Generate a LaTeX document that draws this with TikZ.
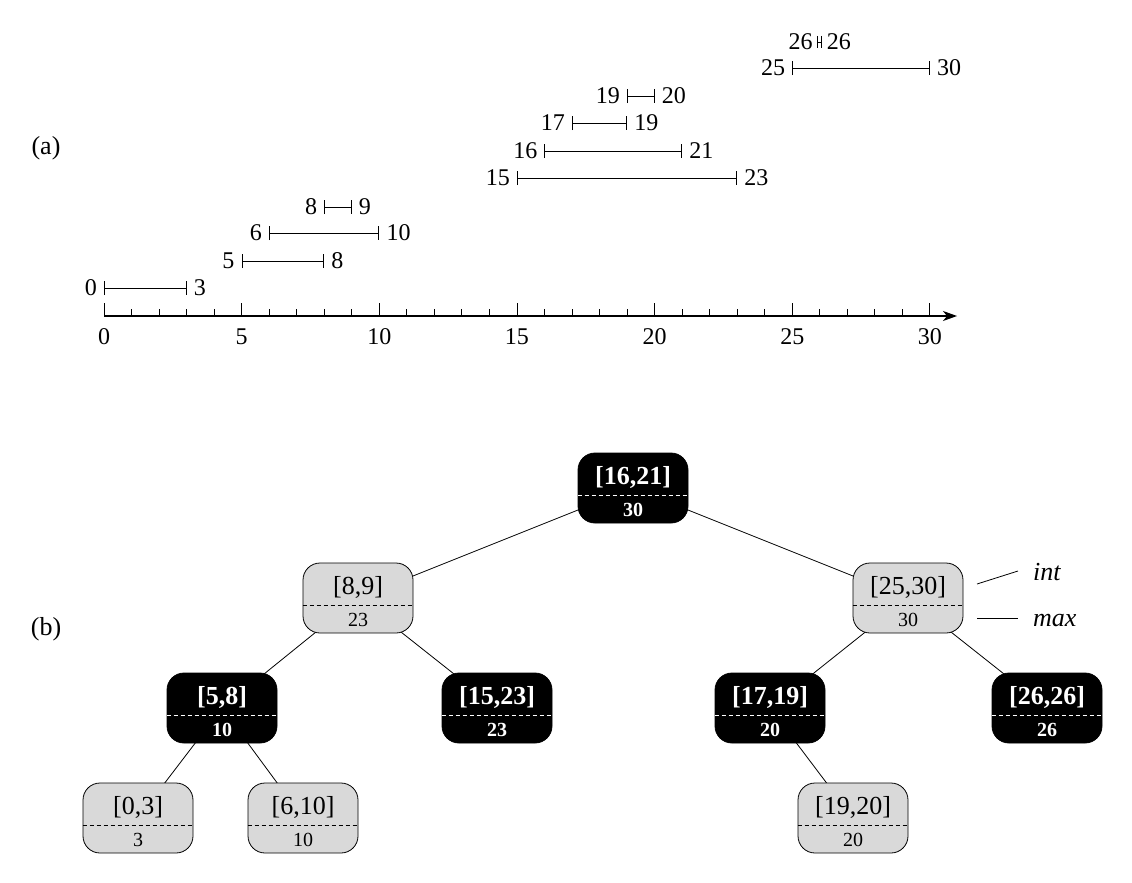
\documentclass[tikz,border=0pt]{standalone}
\usepackage{fontspec}
\setmainfont{Liberation Serif}
\usetikzlibrary{arrows.meta}
\pgfdeclarelayer{bg}
\pgfsetlayers{bg,main}
\tikzset{
  ival/.style={line width=0.9pt},
  capped/.style={line width=0.9pt, {Bar[width=14pt,line width=0.9pt]}-{Bar[width=14pt,line width=0.9pt]}},
  numlab/.style={font=\fontsize{24}{28}\selectfont, inner sep=2pt},
  axis/.style={line width=1.3pt},
  graybox/.style={draw=black, fill=gray!30, rounded corners=17pt, minimum width=110pt, minimum height=70pt, inner sep=0pt, line width=0.8pt},
  blackbox/.style={draw=black, fill=black, rounded corners=17pt, minimum width=110pt, minimum height=70pt, inner sep=0pt, line width=0.8pt},
  graydiv/.style={draw=black, dash pattern=on 4pt off 3pt, line width=0.8pt},
  blackdiv/.style={draw=white, dash pattern=on 4pt off 3pt, line width=0.8pt},
  graytop/.style={font=\fontsize{26}{30}\selectfont, inner sep=0pt},
  graybot/.style={font=\fontsize{20}{24}\selectfont, inner sep=0pt},
  blacktop/.style={font=\fontsize{26}{30}\selectfont\bfseries, text=white, inner sep=0pt},
  blackbot/.style={font=\fontsize{20}{24}\selectfont\bfseries, text=white, inner sep=0pt},
  edge/.style={line width=0.8pt},
  partlab/.style={font=\fontsize{26}{30}\selectfont},
  keylab/.style={font=\fontsize{26}{30}\selectfont\itshape, anchor=west, inner sep=0pt},
}
\newcommand\tnode[6]{%
  \node[#4box] (#1) at (#2,#3) {};
  \draw[#4div] ([yshift=-7pt]#1.west) -- ([yshift=-7pt]#1.east);
  \node[#4top] (#1t) at ([yshift=11pt]#1.center) {#5};
  \node[#4bot] (#1b) at ([yshift=-21.5pt]#1.center) {#6};
}
\begin{document}
\begin{tikzpicture}[x=1pt,y=-1pt]
\useasboundingbox (0,0) rectangle (1132,883);
% ---------- (a) ----------
\node[partlab] (la) at (46,148) {(a)};
\coordinate (ax0) at (104,316);
\coordinate (axend) at (957,316);
\draw[axis,-{Stealth[length=14pt,width=10pt,inset=4pt]}] (ax0) -- (axend);
\foreach \i in {0,...,30}{
  \coordinate (tk\i) at ({104+27.53*\i},316);
  \draw[line width=0.9pt] (tk\i) -- ++(0,-7);
}
\foreach \i in {0,5,...,30}{
  \draw[line width=0.9pt] (tk\i) -- ++(0,-13);
  \node[numlab] (tl\i) at ({104+27.53*\i},337) {\i};
}
\foreach \a/\b/\y/\n in {0/3/288/ia,5/8/261/ib,6/10/233/ic,8/9/207/id,15/23/178/ie,16/21/151/if,17/19/123/ig,19/20/96/ih,25/30/68/ii}{
  \coordinate (\n a) at ({104+27.53*\a},\y);
  \coordinate (\n b) at ({104+27.53*\b},\y);
  \draw[capped] (\n a) -- (\n b);
  \node[numlab,anchor=east,xshift=-5pt] (\n l) at (\n a) {\a};
  \node[numlab,anchor=west,xshift=5pt] (\n r) at (\n b) {\b};
}
\coordinate (ija) at ({104+27.53*26-2},42);
\coordinate (ijb) at ({104+27.53*26+2},42);
\draw[line width=0.9pt] ([yshift=6pt]ija) -- ([yshift=-6pt]ija);
\draw[line width=0.9pt] ([yshift=6pt]ijb) -- ([yshift=-6pt]ijb);
\draw[line width=0.9pt] (ija) -- (ijb);
\node[numlab,anchor=east,xshift=-3pt] (ijl) at (ija) {26};
\node[numlab,anchor=west,xshift=3pt] (ijr) at (ijb) {26};
% ---------- (b) ----------
\node[partlab] (lb) at (46,629) {(b)};
\tnode{r}{633}{488}{black}{[16,21]}{30}
\tnode{a}{358}{598}{gray}{[8,9]}{23}
\tnode{b}{908}{598}{gray}{[25,30]}{30}
\tnode{c}{222}{708}{black}{[5,8]}{10}
\tnode{d}{497}{708}{black}{[15,23]}{23}
\tnode{e}{770}{708}{black}{[17,19]}{20}
\tnode{f}{1047}{708}{black}{[26,26]}{26}
\tnode{g}{138}{818}{gray}{[0,3]}{3}
\tnode{h}{303}{818}{gray}{[6,10]}{10}
\tnode{k}{853}{818}{gray}{[19,20]}{20}
\begin{pgfonlayer}{bg}
\draw[edge] (r.center) -- (a.center);
\draw[edge] (r.center) -- (b.center);
\draw[edge] (a.center) -- (c.center);
\draw[edge] (a.center) -- (d.center);
\draw[edge] (b.center) -- (e.center);
\draw[edge] (b.center) -- (f.center);
\draw[edge] (c.center) -- (g.center);
\draw[edge] (c.center) -- (h.center);
\draw[edge] (e.center) -- (k.center);
\end{pgfonlayer}
\coordinate (intA) at (977,584);
\coordinate (intB) at (1018,571);
\coordinate (maxA) at (977,618);
\coordinate (maxB) at (1018,618);
\draw[edge] (intA) -- (intB);
\draw[edge] (maxA) -- (maxB);
\node[keylab] (kint) at (1033,572) {int};
\node[keylab] (kmax) at (1033,620) {max};
\end{tikzpicture}
\end{document}
